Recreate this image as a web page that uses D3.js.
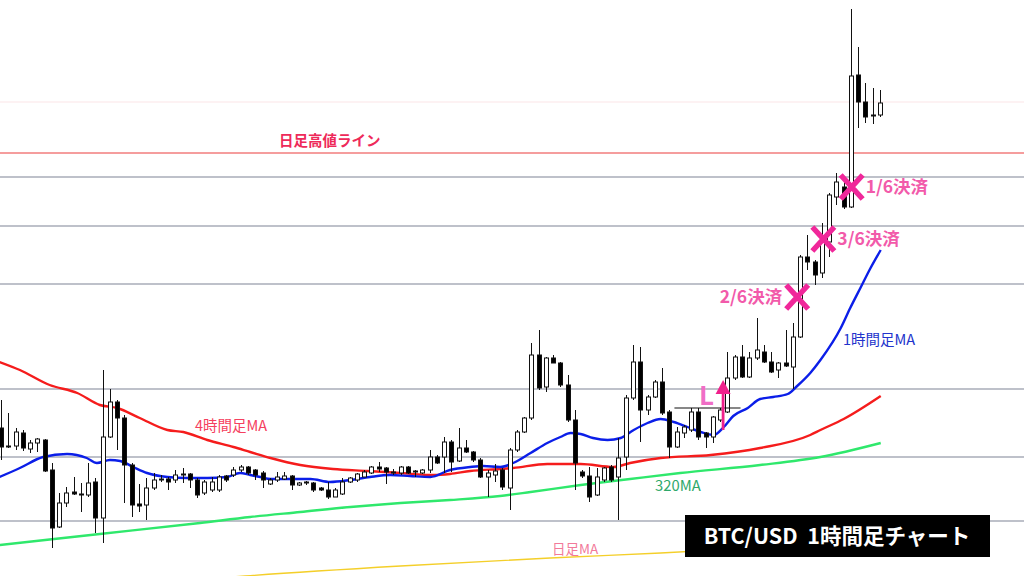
<!DOCTYPE html>
<html>
<head>
<meta charset="utf-8">
<script src="https://cdn.jsdelivr.net/npm/d3@7"></script>
<style>
	html, body { margin: 0; padding: 0; background: #fff; }
	svg { display: block; font-family: "Noto Sans CJK JP", "Noto Sans", sans-serif; }
</style>
</head>
<body>
<div id="chart"></div>
<script>
const WIDTH = 1024;
const HEIGHT = 576;

// candle values (chart units, higher = higher price)
const opens = [148,129,130,143,127,133,136,106,49,73,84,81,81,94,58,139,174,158,111,72,
	71,88,96,97,96,101,102,96,83,86,86,100,101,106,109,106,103,92,96,97,
	100,91,93,93,88,86,79,82,94,96,99,103,109,108,104,103,109,104,103,106,
	119,119,134,115,128,124,116,99,101,106,88,126,144,158,221,189,218,213,191,156,
	104,100,81,96,109,99,119,178,214,166,179,194,164,129,143,146,164,143,139,156,
	164,198,219,199,218,224,214,206,213,209,239,319,314,303,334,379,389,369,501,474,
	460,461];
const highs = [176,163,148,146,136,138,137,113,83,89,99,93,113,98,206,187,176,161,113,92,
	98,103,101,99,106,108,103,98,96,99,101,101,109,111,110,107,105,98,104,104,
	101,94,95,94,89,94,88,98,99,103,106,110,114,109,107,110,110,106,107,126,
	121,139,136,148,136,125,118,106,112,108,128,146,159,233,246,219,221,214,201,166,
	106,109,108,109,111,138,181,231,229,181,196,208,166,149,151,168,168,144,160,168,
	224,221,231,224,258,231,224,214,246,253,321,341,316,353,383,403,396,567,529,493,
	488,486];
const lows = [116,128,126,125,123,124,104,28,48,69,81,64,79,43,33,138,126,73,59,64,
	56,86,94,86,93,93,88,78,81,84,84,94,99,104,101,96,88,91,94,96,
	86,90,91,84,85,77,79,81,93,94,99,102,104,92,101,101,102,99,102,103,
	112,103,104,114,123,114,98,79,94,86,66,124,143,156,186,184,213,189,154,86,
	98,74,80,94,94,56,106,176,134,161,178,161,118,128,138,144,136,128,133,154,
	163,196,198,198,216,213,203,198,209,187,238,306,291,298,319,371,367,368,448,453,
	452,459];
const closes = [129,130,144,128,133,137,105,48,73,83,82,82,93,58,139,174,158,111,71,70,
	88,96,97,94,101,102,96,81,94,94,99,96,106,109,103,101,96,96,99,100,
	91,93,94,86,86,79,86,94,98,102,104,109,107,104,103,109,103,105,106,119,
	113,134,114,128,124,116,99,103,105,89,126,144,158,221,188,218,213,191,156,113,
	100,79,99,108,96,118,178,214,166,179,194,163,129,144,149,164,139,139,159,166,
	198,219,199,218,226,214,204,213,210,239,319,314,301,334,381,394,369,500,474,459,
	461,473];

// moving averages as [candle index, value]
const ma1h = [[-0.2,99],[2.6,108],[5.8,119],[9.1,122],[11.8,118],[13.2,113],[15,116],[16.4,115],
	[18.2,109],[20.1,103],[22.9,99],[25.6,98],[28.4,98],[31.1,99],[32.9,103],[34.3,101],[35.7,99],
	[37.1,97],[39.8,97],[42.6,97],[45.3,94],[48.1,96],[50.8,99],[53.6,101],[56.3,100],[59.1,99],
	[61.8,106],[64.6,109],[66.4,110],[68.7,109],[70.5,113],[72.9,123],[75.2,133],[77,139],
	[78.4,143],[79.8,142],[81.5,138],[83.5,136],[85.3,138],[87.1,146],[89,153],[90.8,157],
	[92.6,154],[94.5,149],[96.3,144],[98.1,141],[99.5,149],[100.8,160],[102.8,168],[104.5,177],
	[106.3,179],[108.3,182],[109.6,190],[111.4,203],[112.8,216],[115.6,248],[116.9,268],
	[118.3,288],[119.7,308],[121.1,326]];
const ma4h = [[-0.2,214],[2.6,206],[6.7,191],[10.5,183],[13.6,171],[16,168],[19.1,158],[22.9,146],
	[25.1,144],[28.4,136],[32,129],[34.3,124],[37.1,118],[41.2,111],[45.7,107],[50.4,105],[55,103],
	[59.5,101],[61.8,102],[64.6,105],[68.7,107],[70.5,108],[75.2,112],[79.8,112],[84.3,109],
	[86.6,113],[90.8,118],[97.7,121],[104.5,128],[111.4,141],[112.8,146],[116,157],[121.1,180]];
const ma320 = [[-0.2,31],[13.6,42],[27.4,53],[34.3,59],[41.2,64],[48.1,69],[55,73],[61.8,76],
	[68.7,80],[72.9,84],[79.8,91],[86.6,97],[93.5,103],[104.5,111],[112.8,119],[121.1,133]];
const maDaily = [[30,-2],[33.6,0],[55,10],[75.6,18],[90.8,23],[121.1,35]];

// horizontal levels
const gridLevels = [399, 350, 292, 187, 119, 55];
const dailyHighLevel = 423;
const faintLevel = 474;

// trade annotations
const entry = { i: 99.4, from: 146, to: 196, level: 168, lineStart: 92.7, lineEnd: 101.8 };
const exits = [
	{ label: '1/6決済', i: 117.1, v: 389 },
	{ label: '3/6決済', i: 113.2, v: 337 },
	{ label: '2/6決済', i: 109.6, v: 279 }
];

const candles = opens.map((o, i) => ({ i: i, o: o, h: highs[i], l: lows[i], c: closes[i] }));

const svg = d3.select('#chart').append('svg')
	.attr('width', WIDTH)
	.attr('height', HEIGHT);

svg.append('rect').attr('width', WIDTH).attr('height', HEIGHT).attr('fill', '#fff');

const xScale = d3.scaleLinear().domain([0, 121]).range([1, 880]);
const yScale = d3.scaleLinear().domain([0, 576]).range([576, 0]);

// horizontal lines
svg.append('line')
	.attr('x1', 0).attr('x2', WIDTH)
	.attr('y1', yScale(faintLevel)).attr('y2', yScale(faintLevel))
	.attr('stroke', '#fbe6e8').attr('stroke-width', 1.2);

svg.append('line')
	.attr('x1', 0).attr('x2', WIDTH)
	.attr('y1', yScale(dailyHighLevel)).attr('y2', yScale(dailyHighLevel))
	.attr('stroke', '#f27c7c').attr('stroke-width', 1.6);

svg.append('g').selectAll('line')
	.data(gridLevels)
	.enter().append('line')
	.attr('x1', 0).attr('x2', WIDTH)
	.attr('y1', (d) => yScale(d)).attr('y2', (d) => yScale(d))
	.attr('stroke', '#a9acb8').attr('stroke-width', 1.4);

// moving averages
const maLine = d3.line()
	.x((d) => xScale(d[0]))
	.y((d) => yScale(d[1]))
	.curve(d3.curveMonotoneX);

const maSpecs = [
	{ data: maDaily, color: '#f4cf2a', width: 1.4 },
	{ data: ma320, color: '#2fe86c', width: 2.4 },
	{ data: ma4h, color: '#f51c1c', width: 2.4 },
	{ data: ma1h, color: '#0b1ee8', width: 2.4 }
];

svg.append('g').selectAll('path')
	.data(maSpecs)
	.enter().append('path')
	.attr('fill', 'none')
	.attr('stroke', (d) => d.color)
	.attr('stroke-width', (d) => d.width)
	.attr('d', (d) => maLine(d.data));

// candles
const BODY_W = 5;
const candle = svg.append('g').selectAll('g')
	.data(candles)
	.enter().append('g');

candle.append('line')
	.attr('x1', (d) => Math.round(xScale(d.i)) + 0.5)
	.attr('x2', (d) => Math.round(xScale(d.i)) + 0.5)
	.attr('y1', (d) => yScale(d.h))
	.attr('y2', (d) => yScale(d.l))
	.attr('stroke', '#111')
	.attr('stroke-width', 1);

candle.append('rect')
	.attr('x', (d) => Math.round(xScale(d.i)) - 2 + 0.5)
	.attr('y', (d) => yScale(Math.max(d.o, d.c)))
	.attr('width', BODY_W - 1)
	.attr('height', (d) => Math.max(1, Math.abs(yScale(d.o) - yScale(d.c))))
	.attr('fill', (d) => d.c >= d.o ? '#fff' : '#000')
	.attr('stroke', '#111')
	.attr('stroke-width', 1);

// labels
const labels = [
	{ text: '日足高値ライン', x: 279, y: 146, size: 14.5, weight: 700, color: '#ee2a5a' },
	{ text: '4時間足MA', x: 195, y: 431, size: 14.5, weight: 400, color: '#f5405e' },
	{ text: '1時間足MA', x: 843, y: 345, size: 14.5, weight: 400, color: '#2233cc' },
	{ text: '320MA', x: 655, y: 491, size: 14.8, weight: 400, color: '#2ea86a' },
	{ text: '日足MA', x: 552, y: 554, size: 13.5, weight: 400, color: '#f27a9a' }
];

svg.append('g').selectAll('text')
	.data(labels)
	.enter().append('text')
	.attr('x', (d) => d.x)
	.attr('y', (d) => d.y)
	.attr('font-size', (d) => d.size)
	.attr('font-weight', (d) => d.weight)
	.attr('fill', (d) => d.color)
	.text((d) => d.text);

// entry line and arrow
svg.append('line')
	.attr('x1', xScale(entry.lineStart)).attr('x2', xScale(entry.lineEnd))
	.attr('y1', yScale(entry.level)).attr('y2', yScale(entry.level))
	.attr('stroke', '#111').attr('stroke-width', 1.2);

svg.append('line')
	.attr('x1', xScale(entry.i)).attr('x2', xScale(entry.i))
	.attr('y1', yScale(entry.from)).attr('y2', yScale(entry.to) + 10)
	.attr('stroke', '#f0208c').attr('stroke-width', 2.8);

svg.append('path')
	.attr('d', 'M' + (xScale(entry.i) - 7.5) + ',' + (yScale(entry.to) + 14)
		+ 'L' + xScale(entry.i) + ',' + yScale(entry.to)
		+ 'L' + (xScale(entry.i) + 7.5) + ',' + (yScale(entry.to) + 14) + 'Z')
	.attr('fill', '#f0208c');

svg.append('text')
	.attr('x', 699).attr('y', 405)
	.attr('font-size', 26).attr('font-weight', 700)
	.attr('fill', '#f06ec6')
	.text('L');

// exit marks
const exitG = svg.append('g').selectAll('g')
	.data(exits)
	.enter().append('g')
	.attr('transform', (d) => 'translate(' + xScale(d.i) + ',' + yScale(d.v) + ')');

exitG.append('path')
	.attr('d', 'M-11,-12L11,12M11,-12L-11,12')
	.attr('stroke', '#f0289a')
	.attr('stroke-width', 5.5)
	.attr('stroke-linecap', 'butt');

exitG.append('text')
	.attr('x', (d, i) => i === 2 ? -15 : 14)
	.attr('y', 6)
	.attr('text-anchor', (d, i) => i === 2 ? 'end' : 'start')
	.attr('font-size', 17.5)
	.attr('font-weight', 700)
	.attr('fill', '#f25aaa')
	.text((d) => d.label);

// title box
svg.append('rect')
	.attr('x', 685).attr('y', 515)
	.attr('width', 305).attr('height', 42)
	.attr('fill', '#000');

svg.append('text')
	.attr('x', 837).attr('y', 544)
	.attr('text-anchor', 'middle')
	.attr('font-size', 21.5)
	.attr('font-weight', 700)
	.attr('fill', '#fff')
	.attr('xml:space', 'preserve')
	.text('BTC/USD  1時間足チャート');
</script>
</body>
</html>
